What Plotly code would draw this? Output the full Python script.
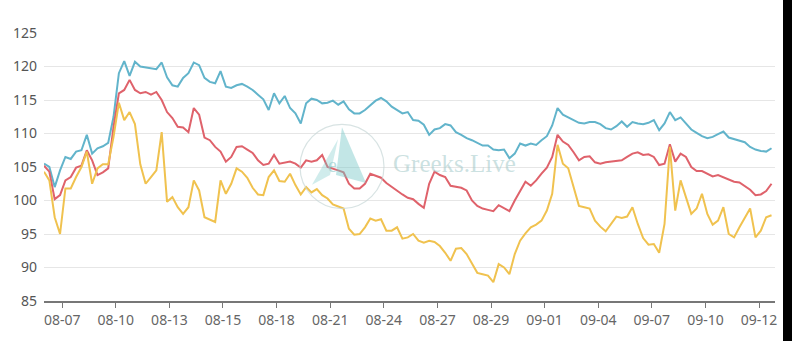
import plotly.graph_objects as go

tick_labels = ["08-07", "08-10", "08-13", "08-15", "08-18", "08-21", "08-24",
               "08-27", "08-29", "09-01", "09-04", "09-07", "09-10", "09-12"]

blue = [105.5, 105.0, 102.0, 104.5, 106.5, 106.2, 107.3, 107.5, 109.8, 107.0,
        107.8, 108.1, 108.6, 112.5, 119.0, 120.8, 118.6, 120.7, 120.0, 119.9,
        119.8, 119.6, 120.6, 118.4, 117.2, 117.0, 118.3, 119.0, 120.6, 120.2,
        118.3, 117.7, 117.5, 119.3, 117.0, 116.8, 117.2, 117.4, 117.0, 116.5,
        115.8, 115.1, 113.5, 116.0, 114.5, 115.6, 113.8, 113.0, 111.5, 114.5,
        115.2, 115.0, 114.5, 114.6, 114.9, 114.3, 114.8, 113.6, 113.0, 113.0,
        113.5, 114.2, 114.9, 115.3, 114.8, 114.0, 113.5, 113.0, 113.2, 112.0,
        111.9, 111.3, 109.8, 110.6, 110.8, 111.4, 111.2, 110.2, 109.8, 109.3,
        109.0, 108.6, 108.2, 108.2, 107.6, 107.5, 107.6, 106.3, 107.0, 108.5,
        108.2, 108.5, 108.3, 109.0, 109.6, 111.2, 113.8, 112.8, 112.4, 112.0,
        111.6, 111.5, 111.7, 111.7, 111.4, 110.8, 110.6, 111.1, 111.8, 111.0,
        111.7, 111.5, 111.4, 111.6, 112.0, 110.5, 111.5, 113.2, 112.0, 112.4,
        111.5, 110.6, 110.1, 109.6, 109.3, 109.5, 109.9, 110.3, 109.4, 109.2,
        109.0, 108.7, 108.0, 107.6, 107.4, 107.3, 107.8]

red = [105.2, 104.3, 100.2, 100.8, 103.0, 103.5, 104.9, 105.2, 107.5, 106.0,
       103.8, 104.2, 104.8, 111.0, 116.0, 116.5, 118.0, 116.5, 116.0, 116.2,
       115.8, 116.2, 115.0, 113.2, 112.3, 111.0, 110.9, 110.2, 113.8, 112.8,
       109.4, 109.0, 108.0, 107.3, 105.8, 106.5, 108.0, 108.1, 107.6, 107.1,
       106.0, 105.3, 105.5, 106.8, 105.5, 105.6, 105.8, 105.5, 104.9, 106.0,
       105.8, 106.0, 106.8, 105.0, 104.8, 104.5, 104.2, 102.5, 101.8, 101.8,
       102.5, 104.0, 103.7, 103.4, 102.6, 102.0, 101.4, 100.9, 100.4, 100.2,
       99.5, 98.9, 102.5, 104.3, 103.8, 103.5, 102.2, 102.0, 101.9, 101.5,
       100.0, 99.2, 98.8, 98.6, 98.4, 99.3, 98.9, 98.4, 100.0, 101.5,
       102.8, 102.2, 103.0, 104.0, 104.9, 106.5, 109.8, 108.8, 108.3, 107.2,
       106.0, 106.5, 106.6, 105.7, 105.5, 105.7, 105.8, 106.0, 106.0, 106.5,
       107.0, 107.2, 106.8, 106.9, 106.5, 105.3, 105.5, 108.4, 105.8, 107.0,
       106.5, 105.0, 104.4, 104.4, 104.0, 103.6, 103.8, 103.5, 103.2, 102.8,
       102.7, 102.1, 101.6, 100.8, 100.9, 101.4, 102.5]

yellow = [104.3, 103.0, 97.5, 95.0, 101.8, 101.8, 103.5, 105.0, 107.3, 102.5,
          104.8, 105.4, 105.4, 109.5, 114.6, 112.0, 113.2, 111.4, 105.4, 102.5,
          103.5, 104.5, 110.2, 99.8, 100.5, 99.0, 98.0, 99.0, 103.0, 101.5,
          97.5, 97.1, 96.8, 103.0, 101.0, 102.5, 104.8, 104.3, 103.4, 101.9,
          100.9, 100.8, 103.5, 104.5, 102.9, 102.8, 104.0, 102.3, 100.9, 102.0,
          101.2, 101.7, 100.8, 100.3, 99.4, 99.1, 98.8, 95.8, 94.9, 95.0,
          96.0, 97.3, 97.0, 97.2, 95.5, 95.5, 96.0, 94.3, 94.5, 95.0,
          94.0, 93.7, 94.0, 93.8, 93.2, 92.2, 91.0, 92.8, 92.9, 92.0,
          90.6, 89.2, 89.0, 88.8, 87.8, 90.5, 90.0, 89.0, 92.0, 94.0,
          95.1, 96.0, 96.4, 97.0, 98.5, 101.0, 108.3, 105.5, 104.8, 101.8,
          99.2, 99.0, 98.8, 97.0, 96.1, 95.4, 96.5, 97.6, 97.4, 97.6,
          99.0, 96.5, 94.4, 93.4, 93.5, 92.2, 96.5, 108.0, 98.5, 103.0,
          100.5, 98.0, 98.8, 101.0, 98.0, 96.4, 97.0, 99.0, 95.0, 94.5,
          96.0, 97.5, 98.8, 94.5, 95.5, 97.5, 97.8]

x_idx = list(range(len(blue)))
tick_pos = [3.4 + 10.02 * k for k in range(len(tick_labels))]

fig = go.Figure()
for vals, col in [(blue, "#62b4cb"), (red, "#df626b"), (yellow, "#f0c24f")]:
    fig.add_trace(go.Scatter(x=x_idx, y=vals, mode="lines",
                             line=dict(color=col, width=2), hoverinfo="skip",
                             showlegend=False))

# watermark
def px(xp):
    return (xp - 44) / 731.0

def py(yp):
    return (303 - yp) / 270.0

shapes = [
    dict(type="circle", xref="paper", yref="paper",
         x0=px(300), x1=px(384), y0=py(210), y1=py(125),
         line=dict(color="rgba(200,215,215,0.7)", width=1.2), layer="above"),
    dict(type="path", xref="paper", yref="paper",
         path=f"M {px(342)},{py(128)} L {px(366)},{py(184)} L {px(336)},{py(176)} Z",
         fillcolor="rgba(120,200,200,0.45)", line=dict(width=0), layer="above"),
    dict(type="path", xref="paper", yref="paper",
         path=f"M {px(338)},{py(140)} L {px(330)},{py(176)} L {px(312)},{py(186)} Z",
         fillcolor="rgba(120,200,200,0.35)", line=dict(width=0), layer="above"),
    dict(type="rect", xref="paper", yref="paper",
         x0=px(783), x1=px(800), y0=py(360), y1=py(-20),
         fillcolor="black", line=dict(width=0), layer="above"),
]

annotations = [
    dict(text="Greeks.Live", xref="paper", yref="paper", x=px(454), y=py(164),
         showarrow=False, font=dict(family="Liberation Serif", size=25,
                                    color="rgba(160,200,200,0.55)")),
    dict(text="e", xref="paper", yref="paper", x=px(332), y=py(166),
         showarrow=False, font=dict(family="Liberation Serif", size=20,
                                    color="rgba(140,200,200,0.6)")),
]

fig.update_layout(
    width=792, height=341,
    margin=dict(l=44, r=17, t=33, b=38),
    paper_bgcolor="white", plot_bgcolor="white",
    shapes=shapes, annotations=annotations,
    xaxis=dict(range=[0, 136.65], tickmode="array", tickvals=tick_pos,
               ticktext=tick_labels, showgrid=False, zeroline=False,
               showline=True, linecolor="#777", linewidth=1.5,
               ticks="outside", ticklen=5, tickcolor="#777",
               tickfont=dict(family="Noto Sans", size=14, color="#666")),
    yaxis=dict(range=[85, 125], tickmode="array",
               tickvals=[85, 90, 95, 100, 105, 110, 115, 120, 125],
               showgrid=True, gridcolor="#e6e6e6", gridwidth=1,
               zeroline=False, showline=False, ticks="",
               ticklabelstandoff=6,
               tickfont=dict(family="Noto Sans", size=14, color="#555")),
)

fig.write_html("out.html")
